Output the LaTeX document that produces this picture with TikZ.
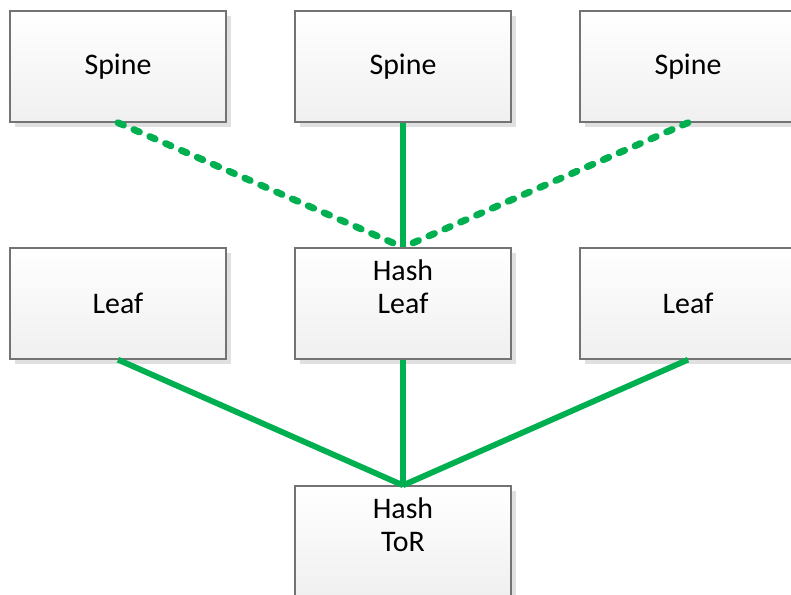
\documentclass[tikz,border=0pt]{standalone}
\usepackage{fontspec}
\setmainfont{Carlito}
\usepackage{xcolor}
\usetikzlibrary{shadows}
\definecolor{linkgreen}{RGB}{0,176,80}

\begin{document}
\begin{tikzpicture}[
  box/.style={draw=black!55, line width=0.8pt, top color=white, bottom color=black!6,
    minimum width=4.32cm, minimum height=2.22cm, inner sep=0pt, align=center,
    font=\fontsize{17}{18.8}\selectfont,
    drop shadow={shadow xshift=0.1cm, shadow yshift=-0.1cm, fill=black!12, opacity=1}},
  link/.style={draw=linkgreen, line width=3.3pt},
  backup/.style={link, line width=3.9pt, dash pattern=on 0.12cm off 0.226cm, line cap=round}
]
  \useasboundingbox (0,0) rectangle (15.82,11.9);
  \clip (0,0) rectangle (15.82,11.9);
  % spine row
  \node[box] (spineA) at (2.36,10.57) {Spine};
  \node[box] (spineB) at (8.06,10.57) {Spine};
  \node[box] (spineC) at (13.76,10.57) {Spine};
  % leaf row
  \node[box] (leafA) at (2.36,5.83) {Leaf};
  \node[box] (hashleaf) at (8.06,5.83) {Hash\\Leaf\\~};
  \node[box] (leafC) at (13.76,5.83) {Leaf};
  % top of rack
  \node[box] (tor) at (8.06,1.07) {Hash\\ToR\\~};
  % uplinks from the hash leaf
  \draw[backup] (spineA.south) -- (hashleaf.north);
  \draw[link] (spineB.south) -- (hashleaf.north);
  \draw[backup] (spineC.south) -- (hashleaf.north);
  % uplinks from the tor
  \draw[link] (leafA.south) -- (tor.north);
  \draw[link] (hashleaf.south) -- (tor.north);
  \draw[link] (leafC.south) -- (tor.north);
\end{tikzpicture}
\end{document}
